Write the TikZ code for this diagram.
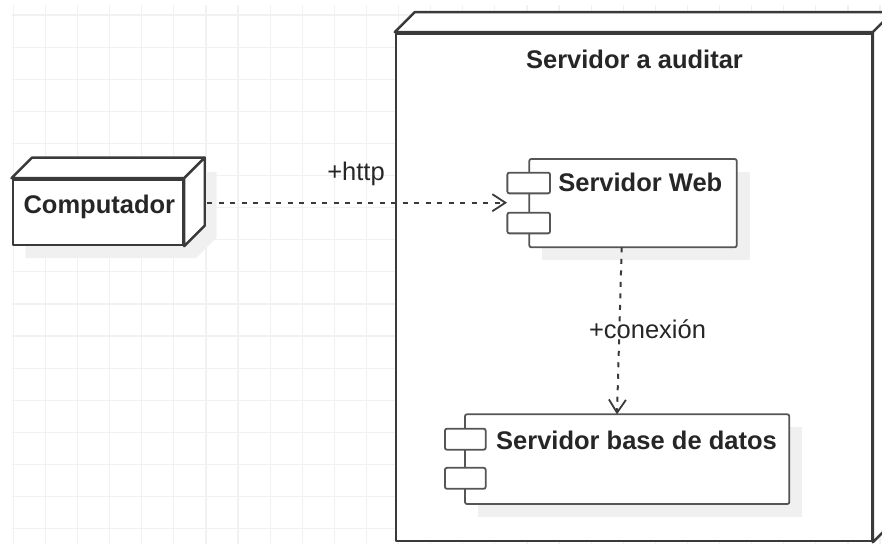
\documentclass[tikz,border=0pt]{standalone}
\usepackage{fontspec}
\setmainfont{Liberation Sans}
\usetikzlibrary{arrows.meta}
\definecolor{edge}{HTML}{3A3A3A}
\definecolor{cedge}{HTML}{555555}
\definecolor{shad}{HTML}{F0F0F0}
\definecolor{gridc}{HTML}{F1F1F1}
\definecolor{txt}{HTML}{262626}
\begin{document}
\begin{tikzpicture}[x=1pt,y=-1pt,
  box3d/.style={draw=edge, line width=2.4pt, fill=white, inner sep=0pt, line join=round},
  face/.style={draw=edge, line width=2.4pt, fill=white, line join=round},
  compbox/.style={draw=cedge, line width=1.8pt, fill=white, rounded corners=2pt, inner sep=0pt},
  shadowbox/.style={fill=shad, draw=none},
  gridline/.style={draw=gridc, line width=1.2pt},
  lbl/.style={anchor=base, text=txt, inner sep=0pt, font=\fontsize{25.5}{30}\selectfont},
  blbl/.style={anchor=base, text=txt, inner sep=0pt, font=\fontsize{25.5}{30}\selectfont\bfseries},
  conn/.style={draw=edge, line width=2pt, dash pattern=on 5pt off 6.5pt,
    -{Straight Barb[length=13pt,width=17pt,line width=1.8pt]}}]
\useasboundingbox (0,0) rectangle (882,544);
\clip (0,0) rectangle (882,544);
\fill[white] (0,0) rectangle (882,544);
% grid
\foreach \i in {0,...,27} \draw[gridline] ({13.3+32.1*\i},5) -- ({13.3+32.1*\i},544);
\foreach \j in {0,...,16} \draw[gridline] (12,{15+32.1*\j}) -- (882,{15+32.1*\j});

% Servidor a auditar (3D node)
\node[box3d, minimum width=475.7pt, minimum height=507.7pt] (srv) at (633.85,287.15) {};
\path[face] (srv.north west) -- ++(20,-20) -- ([shift={(20,-20)}]srv.north east) -- (srv.north east) -- cycle;
\path[face] (srv.north east) -- ++(20,-20) -- ([shift={(20,-20)}]srv.south east) -- (srv.south east) -- cycle;
\node[blbl] (srvlbl) at (634.5,68.3) {Servidor a auditar};

% Computador (3D node) with shadow
\fill[shadowbox] (25.7,192.3) -- (46.2,171.8) -- (216.5,171.8) -- (216.5,237.5) -- (196,258) -- (25.7,258) -- cycle;
\node[box3d, minimum width=170.3pt, minimum height=65.7pt] (comp) at (97.85,212.15) {};
\path[face] (comp.north west) -- ++(20.5,-20.5) -- ([shift={(20.5,-20.5)}]comp.north east) -- (comp.north east) -- cycle;
\path[face] (comp.north east) -- ++(20.5,-20.5) -- ([shift={(20.5,-20.5)}]comp.south east) -- (comp.south east) -- cycle;
\node[blbl] (complbl) at (99.3,213.5) {Computador};

% Servidor Web (component)
\fill[shadowbox] (542.3,172) rectangle (749.7,260.3);
\node[compbox, minimum width=207.4pt, minimum height=88.3pt] (web) at (633,203.15) {};
\node[compbox, minimum width=42.7pt, minimum height=20.7pt] (web1) at (528.7,183) {};
\node[compbox, minimum width=42.7pt, minimum height=20.7pt] (web2) at (528.7,223) {};
\node[blbl] (weblbl) at (640.3,191.7) {Servidor Web};

% Servidor base de datos (component)
\fill[shadowbox] (478,427.3) rectangle (802.3,517);
\node[compbox, minimum width=324.3pt, minimum height=89.7pt] (db) at (627.15,459.15) {};
\node[compbox, minimum width=40.7pt, minimum height=21pt] (db1) at (465.3,439.2) {};
\node[compbox, minimum width=40.7pt, minimum height=21pt] (db2) at (465.3,478.3) {};
\node[blbl] (dblbl) at (636.5,449) {Servidor base de datos};

% connector labels
\node[lbl] (http) at (356,180.7) {+http};
\node[lbl] (cnx) at (647.5,338.3) {+conexión};

% connectors
\coordinate (compout) at (207,202.7);
\coordinate (webin) at (507,202.7);
\coordinate (webout) at (621.7,247.3);
\coordinate (dbin) at (617,414.3);
\draw[conn] (compout) -- (webin);
\draw[conn] (webout) -- (dbin);
\end{tikzpicture}
\end{document}
